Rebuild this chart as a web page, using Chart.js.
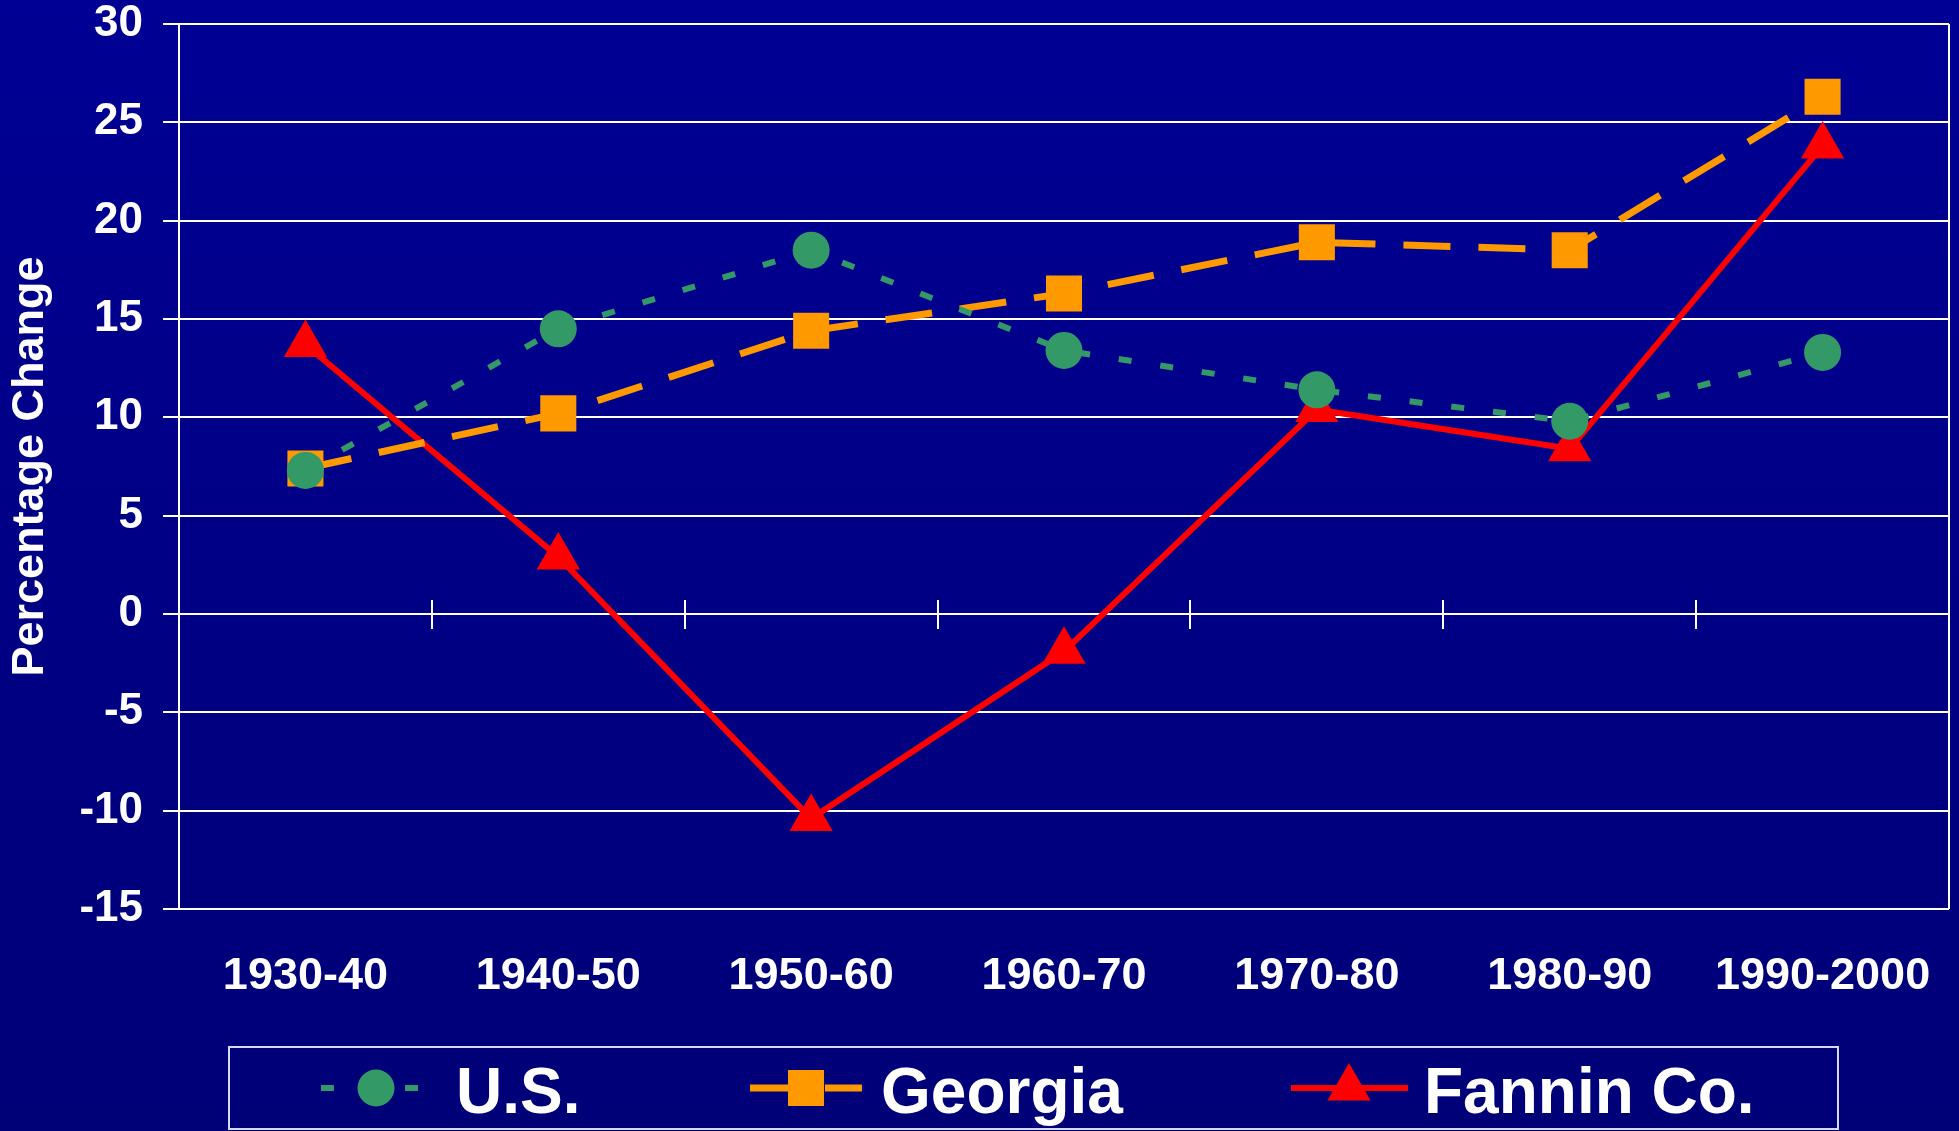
<!DOCTYPE html>
<html>
<head>
<meta charset="utf-8">
<script src="https://cdn.jsdelivr.net/npm/chart.js@4.4.0/dist/chart.umd.min.js"></script>
<style>
  body { margin: 0; background: #000080; }
</style>
</head>
<body>
<canvas id="PopChart" width="1959" height="1131"></canvas>
<script>
const decades = ['1930-40', '1940-50', '1950-60', '1960-70', '1970-80', '1980-90', '1990-2000'];
const usChange = [7.3, 14.5, 18.5, 13.4, 11.4, 9.8, 13.3];
const georgiaChange = [7.4, 10.2, 14.4, 16.3, 18.9, 18.5, 26.3];
const fanninChange = [13.7, 2.9, -10.4, -1.9, 10.4, 8.4, 23.8];
const yMin = -15;
const yMax = 30;
const yStep = 5;

const FONT = '"Liberation Sans", Arial, sans-serif';

// background, right frame edge and the little ticks on the zero line
const frame = {
    id: 'frame',
    beforeDraw(chart) {
        const ctx = chart.ctx;
        const g = ctx.createLinearGradient(0, 0, 0, chart.height);
        g.addColorStop(0, '#000094');
        g.addColorStop(1, '#000077');
        ctx.save();
        ctx.fillStyle = g;
        ctx.fillRect(0, 0, chart.width, chart.height);
        ctx.restore();
    },
    afterDatasetsDraw(chart) {
        const ctx = chart.ctx;
        const area = chart.chartArea;
        const x = chart.scales.x;
        const y0 = chart.scales.y.getPixelForValue(0);
        ctx.save();
        ctx.strokeStyle = '#ffffff';
        ctx.lineWidth = 2;
        ctx.beginPath();
        ctx.moveTo(area.right, area.top);
        ctx.lineTo(area.right, area.bottom);
        for (let i = 1; i < decades.length; i++) {
            const px = Math.round((x.getPixelForValue(i - 1) + x.getPixelForValue(i)) / 2);
            ctx.moveTo(px, y0 - 14);
            ctx.lineTo(px, y0 + 15);
        }
        ctx.stroke();
        ctx.restore();
    }
};

function drawMarker(ctx, style, r, x, y) {
    ctx.beginPath();
    if (style === 'circle') {
        ctx.arc(x, y, r, 0, Math.PI * 2);
    } else if (style === 'rect') {
        const s = r * Math.SQRT1_2;
        ctx.rect(x - s, y - s, 2 * s, 2 * s);
    } else {
        ctx.moveTo(x, y - r);
        ctx.lineTo(x + r * Math.sin(Math.PI * 2 / 3), y + r / 2);
        ctx.lineTo(x - r * Math.sin(Math.PI * 2 / 3), y + r / 2);
        ctx.closePath();
    }
    ctx.fill();
}

// legend box along the bottom, line + marker + name
const bottomLegend = {
    id: 'bottomLegend',
    afterDraw(chart) {
        const ctx = chart.ctx;
        const cy = 1088;
        const items = [
            { from: 321, to: 420, mark: 376, text: 456 },
            { from: 750, to: 862, mark: 806, text: 881 },
            { from: 1291, to: 1408, mark: 1349, text: 1424 }
        ];
        ctx.save();
        ctx.strokeStyle = '#d8d8f0';
        ctx.lineWidth = 2;
        ctx.strokeRect(229, 1047, 1609, 82);
        chart.data.datasets.forEach((ds, i) => {
            const it = items[i];
            ctx.strokeStyle = ds.borderColor;
            ctx.lineWidth = ds.borderWidth;
            ctx.setLineDash(ds.borderDash || []);
            ctx.beginPath();
            ctx.moveTo(it.from, cy);
            ctx.lineTo(it.to, cy);
            ctx.stroke();
            ctx.setLineDash([]);
            ctx.fillStyle = ds.borderColor;
            drawMarker(ctx, ds.pointStyle, ds.pointRadius, it.mark, cy);
            ctx.fillStyle = '#ffffff';
            ctx.font = 'bold 64px ' + FONT;
            ctx.textBaseline = 'alphabetic';
            ctx.textAlign = 'left';
            ctx.fillText(ds.label, it.text, 1113);
        });
        ctx.restore();
    }
};

const ctx = document.getElementById('PopChart').getContext('2d');
const popChart = new Chart(ctx, {
    type: 'line',
    data: {
        labels: decades,
        datasets: [{
            label: 'U.S.',
            data: usChange,
            borderColor: '#339966',
            backgroundColor: '#339966',
            borderWidth: 6,
            borderDash: [13, 29],
            pointStyle: 'circle',
            pointRadius: 18.5,
            pointBorderWidth: 0
        },
        {
            label: 'Georgia',
            data: georgiaChange,
            borderColor: '#FF9900',
            backgroundColor: '#FF9900',
            borderWidth: 7,
            borderDash: [47, 28],
            pointStyle: 'rect',
            pointRadius: 25.5,
            pointBorderWidth: 0
        },
        {
            label: 'Fannin Co.',
            data: fanninChange,
            borderColor: '#FF0000',
            backgroundColor: '#FF0000',
            borderWidth: 6,
            pointStyle: 'triangle',
            pointRadius: 25,
            pointBorderWidth: 0
        }]
    },
    options: {
        responsive: false,
        animation: false,
        events: [],
        layout: {
            autoPadding: false,
            padding: { top: 24, right: 10, left: 0, bottom: 0 }
        },
        elements: {
            line: { tension: 0 }
        },
        plugins: {
            legend: { display: false },
            tooltip: { enabled: false }
        },
        scales: {
            x: {
                offset: true,
                afterFit(scale) {
                    scale.height = 222;
                    scale.paddingLeft = 0;
                    scale.paddingRight = 0;
                },
                grid: { display: false, drawTicks: false },
                border: { display: false },
                ticks: {
                    color: '#ffffff',
                    font: { family: FONT, size: 45, weight: 'bold' },
                    padding: 41,
                    maxRotation: 0,
                    autoSkip: false
                }
            },
            y: {
                min: yMin,
                max: yMax,
                afterFit(scale) {
                    scale.width = 179;
                    scale.paddingTop = 0;
                    scale.paddingBottom = 0;
                },
                grid: {
                    color: '#ffffff',
                    lineWidth: 2,
                    drawTicks: true,
                    tickLength: 16
                },
                border: { color: '#ffffff', width: 2 },
                ticks: {
                    stepSize: yStep,
                    color: '#ffffff',
                    font: { family: FONT, size: 44, weight: 'bold' },
                    padding: 20
                },
                title: {
                    display: true,
                    text: 'Percentage Change',
                    color: '#ffffff',
                    font: { family: FONT, size: 45, weight: 'bold' },
                    padding: { top: 4, bottom: 4 }
                }
            }
        }
    },
    plugins: [frame, bottomLegend]
});
</script>
</body>
</html>
